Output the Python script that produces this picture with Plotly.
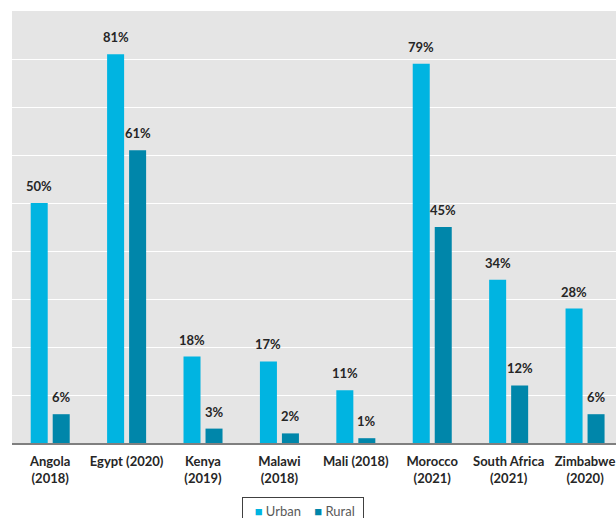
import plotly.graph_objects as go

# Share of population by area type, selected African countries (survey year in brackets)
countries = [
    "Angola<br>(2018)", "Egypt (2020)", "Kenya<br>(2019)", "Malawi<br>(2018)",
    "Mali (2018)", "Morocco<br>(2021)", "South Africa<br>(2021)", "Zimbabwe<br>(2020)",
]
urban = [50, 81, 18, 17, 11, 79, 34, 28]
rural = [6, 61, 3, 2, 1, 45, 12, 6]

URBAN_COLOR = "#00B4E1"
RURAL_COLOR = "#0086AA"
FONT = "Lato"

fig = go.Figure()
fig.add_trace(go.Bar(name="Urban", x=countries, y=urban, marker_color=URBAN_COLOR,
                     marker_line_width=0, showlegend=False))
fig.add_trace(go.Bar(name="Rural", x=countries, y=rural, marker_color=RURAL_COLOR,
                     marker_line_width=0, showlegend=False))

# Percentage labels above each bar
for series, shift in ((urban, -11), (rural, 11)):
    for c, v in zip(countries, series):
        fig.add_annotation(
            x=c, y=v, text=f"<b>{v}%</b>", showarrow=False,
            xshift=shift, yshift=7, yanchor="bottom",
            font=dict(family=FONT, size=13, color="#262626"),
        )

# Boxed key below the chart
fig.add_annotation(
    xref="paper", yref="paper", x=0.481, y=-0.125, xanchor="center", yanchor="top",
    text=(f"  <span style='color:{URBAN_COLOR}'>■</span> Urban    "
          f"<span style='color:{RURAL_COLOR}'>■</span> Rural "),
    showarrow=False, bordercolor="#404040", borderwidth=1, borderpad=5,
    bgcolor="white", font=dict(family=FONT, size=13, color="#595959"),
)

fig.update_layout(
    width=616, height=518,
    margin=dict(l=12, r=0, t=11, b=75),
    paper_bgcolor="white", plot_bgcolor="#E5E5E5",
    barmode="group", bargap=0.424, bargroupgap=0.227,
    font=dict(family=FONT, size=13, color="#262626"),
)
fig.update_xaxes(
    range=[-0.5, 7.405], showgrid=False, showline=True, linecolor="#7F7F7F",
    linewidth=1.5, ticks="", tickfont=dict(family=FONT, size=13, color="#262626"),
    tickprefix="<b>", ticksuffix="</b>", ticklabelstandoff=6,
)
fig.update_yaxes(
    range=[0, 90], dtick=10, showgrid=True, gridcolor="white", gridwidth=1,
    showticklabels=False, zeroline=False, showline=False,
)

fig.write_html("out.html")
